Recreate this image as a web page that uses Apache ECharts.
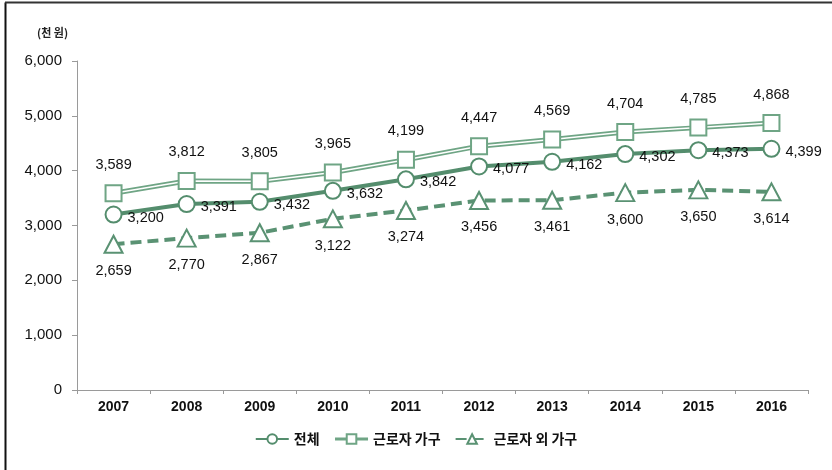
<!DOCTYPE html>
<html>
<head>
<meta charset="utf-8">
<script src="https://cdn.jsdelivr.net/npm/echarts@6/dist/echarts.min.js"></script>
<style>
  html, body { margin: 0; padding: 0; background: #fff; }
  #chart { width: 832px; height: 470px; }
</style>
</head>
<body>
<div id="chart"></div>
<script>
// Monthly household income by year (unit: thousand won)
const years = ['2007', '2008', '2009', '2010', '2011', '2012', '2013', '2014', '2015', '2016'];
const totalHouseholds = [3200, 3391, 3432, 3632, 3842, 4077, 4162, 4302, 4373, 4399];
const workerHouseholds = [3589, 3812, 3805, 3965, 4199, 4447, 4569, 4704, 4785, 4868];
const nonWorkerHouseholds = [2659, 2770, 2867, 3122, 3274, 3456, 3461, 3600, 3650, 3614];
const yTicks = [0, 1000, 2000, 3000, 4000, 5000, 6000];

const GREEN_DARK = '#548d6d';
const GREEN_LIGHT = '#6fa585';
const GREEN_MID = '#5a9273';
const LATIN = '"Liberation Sans", Arial, sans-serif';
const KOREAN = '"Noto Sans CJK KR", "Liberation Sans", sans-serif';

const fmt = v => Number(v).toLocaleString('en-US');

const chart = echarts.init(document.getElementById('chart'), null, { renderer: 'canvas' });

const labelText = { color: '#111', fontSize: 14.5, fontFamily: LATIN, formatter: p => fmt(p.value) };

chart.setOption({
  animation: false,
  backgroundColor: '#fff',
  graphic: [
    // frame lines along the left and top edges
    { type: 'line', shape: { x1: 5.5, y1: 2.5, x2: 5.5, y2: 470 }, style: { stroke: '#111', lineWidth: 2 } },
    { type: 'line', shape: { x1: 5, y1: 2.5, x2: 832, y2: 2.5 }, style: { stroke: '#333', lineWidth: 2 } },
    { type: 'text', left: 37, top: 27, style: { text: '(천 원)', font: 'bold 11px ' + KOREAN, fill: '#222' } }
  ],
  grid: { left: 77, right: 24, top: 61, bottom: 80 },
  legend: {
    bottom: 19,
    left: 'center',
    itemWidth: 33,
    itemHeight: 12,
    itemGap: 14,
    textStyle: { fontFamily: KOREAN, fontSize: 14, fontWeight: 'bold', color: '#111' },
    data: [
      { name: '전체' },
      { name: '근로자 가구', lineStyle: { color: GREEN_LIGHT, width: 3 } },
      { name: '근로자 외 가구' }
    ]
  },
  xAxis: {
    type: 'category',
    data: years,
    boundaryGap: true,
    axisLine: { lineStyle: { color: '#9a9a9a', width: 1 } },
    axisTick: { show: true, length: 4, lineStyle: { color: '#9a9a9a' } },
    axisLabel: { color: '#111', fontSize: 14, fontWeight: 'bold', fontFamily: LATIN, margin: 10 }
  },
  yAxis: {
    type: 'value',
    min: yTicks[0],
    max: yTicks[yTicks.length - 1],
    interval: yTicks[1] - yTicks[0],
    axisLine: { show: true, lineStyle: { color: '#9a9a9a', width: 1 } },
    axisTick: { show: true, length: 5, lineStyle: { color: '#9a9a9a' } },
    splitLine: { show: false },
    axisLabel: { color: '#111', fontSize: 15, fontFamily: LATIN, margin: 15, formatter: fmt }
  },
  series: [
    {
      // outer band of the double line for worker households
      name: '근로자 가구 외곽',
      type: 'line',
      data: workerHouseholds,
      symbol: 'none',
      silent: true,
      z: 2,
      lineStyle: { color: GREEN_LIGHT, width: 5 },
      legendHoverLink: false
    },
    {
      name: '근로자 가구',
      type: 'line',
      data: workerHouseholds,
      symbol: 'rect',
      symbolSize: 16,
      z: 3,
      itemStyle: { color: '#fff', borderColor: GREEN_LIGHT, borderWidth: 2 },
      lineStyle: { color: '#fff', width: 1.5 },
      label: Object.assign({ show: true, position: 'top', distance: 12 }, labelText)
    },
    {
      name: '전체',
      type: 'line',
      data: totalHouseholds,
      symbol: 'circle',
      symbolSize: 16,
      z: 4,
      itemStyle: { color: '#fff', borderColor: GREEN_DARK, borderWidth: 2 },
      lineStyle: { color: GREEN_DARK, width: 4 },
      label: Object.assign({ show: true, position: 'right', distance: 5, offset: [0, 3] }, labelText)
    },
    {
      name: '근로자 외 가구',
      type: 'line',
      data: nonWorkerHouseholds,
      symbol: 'triangle',
      symbolSize: [18, 17],
      z: 4,
      itemStyle: { color: '#fff', borderColor: GREEN_MID, borderWidth: 2 },
      lineStyle: { color: GREEN_MID, width: 4, type: [11, 6] },
      label: Object.assign({ show: true, position: 'bottom', distance: 10 }, labelText)
    }
  ]
});
</script>
</body>
</html>
